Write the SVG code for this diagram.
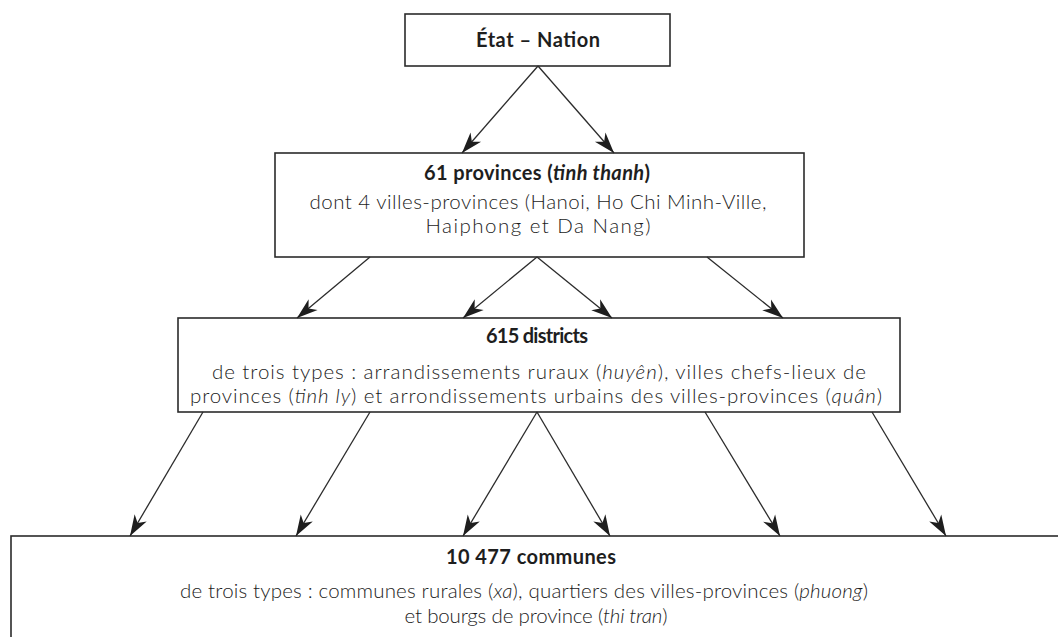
<svg xmlns="http://www.w3.org/2000/svg" width="1058" height="637" viewBox="0 0 1058 637">
  <style>
    .box { fill: #ffffff; stroke: #2b2b2b; stroke-width: 1.6; }
    .title { font-family: Lato, "Liberation Sans", sans-serif; font-weight: 700; font-size: 20px; fill: #1e1e1e; text-anchor: middle; }
    .body { font-family: Lato, "Liberation Sans", sans-serif; font-weight: 300; font-size: 20.5px; fill: #1c1c1c; text-anchor: middle; }
    .it { font-style: italic; }
    .link { stroke: #2b2b2b; stroke-width: 1.3; fill: none; marker-end: url(#head); }
  </style>
  <defs>
    <marker id="head" markerUnits="userSpaceOnUse" markerWidth="26" markerHeight="18" viewBox="-23 -9 26 18" refX="0" refY="0" orient="auto">
      <path d="M0,0 L-21,-7 L-15,0 L-21,7 Z" fill="#1e1e1e"/>
    </marker>
  </defs>

  <rect width="1058" height="637" fill="#ffffff"/>

  <g id="etat-nation">
    <rect class="box" x="405" y="14" width="265" height="52"/>
    <text class="title" x="538" y="47" font-size="22" textLength="124">État – Nation</text>
  </g>

  <g id="provinces">
    <rect class="box" x="275" y="153" width="529" height="104"/>
    <text class="title" x="537" y="180" textLength="226">61 provinces (<tspan class="it">tinh thanh</tspan>)</text>
    <text class="body" x="538" y="209" textLength="457">dont 4 villes-provinces (Hanoi, Ho Chi Minh-Ville,</text>
    <text class="body" x="538" y="233" textLength="225">Haiphong et Da Nang)</text>
  </g>

  <g id="districts">
    <rect class="box" x="178" y="318" width="722" height="94"/>
    <text class="title" x="537" y="343" font-size="21" textLength="102">615 districts</text>
    <text class="body" x="539" y="379" textLength="654">de trois types : arrandissements ruraux (<tspan class="it">huyên</tspan>), villes chefs-lieux de</text>
    <text class="body" x="536" y="403" textLength="692">provinces (<tspan class="it">tinh ly</tspan>) et arrondissements urbains des villes-provinces (<tspan class="it">quân</tspan>)</text>
  </g>

  <g id="communes">
    <rect class="box" x="11" y="536" width="1060" height="120"/>
    <text class="title" x="531" y="564" textLength="170">10 477 communes</text>
    <text class="body" x="524" y="598" textLength="688">de trois types : communes rurales (<tspan class="it">xa</tspan>), quartiers des villes-provinces (<tspan class="it">phuong</tspan>)</text>
    <text class="body" x="536" y="623" textLength="263">et bourgs de province (<tspan class="it">thi tran</tspan>)</text>
  </g>

  <g id="connectors">
    <line class="link" x1="538" y1="66" x2="462" y2="153"/>
    <line class="link" x1="538" y1="66" x2="614" y2="153"/>

    <line class="link" x1="370" y1="257" x2="297" y2="318"/>
    <line class="link" x1="537" y1="257" x2="463" y2="318"/>
    <line class="link" x1="537" y1="257" x2="612" y2="318"/>
    <line class="link" x1="707" y1="257" x2="783" y2="318"/>

    <line class="link" x1="203" y1="412" x2="130" y2="536"/>
    <line class="link" x1="370" y1="412" x2="296" y2="536"/>
    <line class="link" x1="537" y1="412" x2="463" y2="536"/>
    <line class="link" x1="537" y1="412" x2="610" y2="536"/>
    <line class="link" x1="705" y1="412" x2="780" y2="536"/>
    <line class="link" x1="872" y1="412" x2="946" y2="536"/>
  </g>
</svg>
